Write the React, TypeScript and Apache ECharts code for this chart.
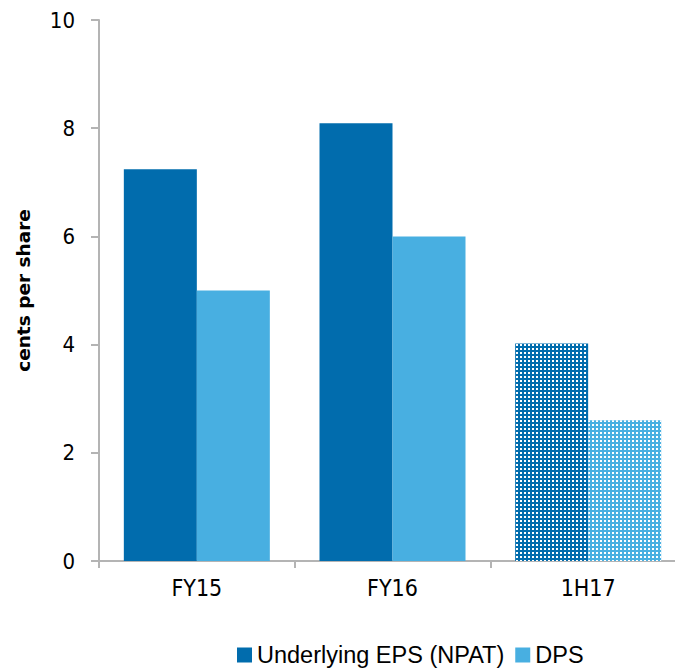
import React, { useEffect, useRef } from "react";
import * as echarts from "echarts";

// Periods on the category axis
const periods = ["FY15", "FY16", "1H17"];
// Cents per share
const epsValues = [7.24, 8.09, 4.02];
const dpsValues = [5.0, 6.0, 2.6];
// Y axis ticks
const yMin = 0;
const yMax = 10;
const yStep = 2;

const EPS_COLOR = "#016CAD";
const DPS_COLOR = "#48AFE1";
const AXIS_GREY = "#B4B4B4";
const TICK_FONT = '"DejaVu Sans Condensed", "DejaVu Sans", sans-serif';

// Half-year (interim) figures are drawn with a dotted fill
const dotted = {
  symbol: "rect",
  symbolSize: 1,
  color: "#ffffff",
  dashArrayX: [2, 2],
  dashArrayY: [2, 2],
  rotation: 0,
};

const withInterimPattern = (values: number[]) =>
  values.map((v, i) =>
    periods[i].startsWith("1H") ? { value: v, itemStyle: { decal: dotted } } : v
  );

export default function App() {
  const ref = useRef<HTMLDivElement>(null);

  useEffect(() => {
    if (!ref.current) return;
    const chart = echarts.init(ref.current, undefined, { renderer: "svg" });
    chart.setOption({
      animation: false,
      backgroundColor: "#ffffff",
      // the plot runs a little past the right edge, so the last bar pair sits near it
      grid: {
        left: 99,
        width: 587,
        top: 20,
        height: 541,
        containLabel: false,
        outerBoundsMode: "none",
      },
      legend: {
        data: ["Underlying EPS (NPAT)", "DPS"],
        left: 232,
        top: 638,
        icon: "rect",
        itemWidth: 15,
        itemHeight: 15,
        itemGap: 11,
        selectedMode: false,
        textStyle: {
          fontFamily: '"Liberation Sans", Arial, sans-serif',
          fontSize: 23.5,
          color: "#000000",
        },
      },
      xAxis: {
        type: "category",
        data: periods,
        boundaryGap: true,
        axisLine: { show: true, lineStyle: { color: AXIS_GREY, width: 2 } },
        axisTick: { show: true, length: 7, lineStyle: { color: AXIS_GREY, width: 2 } },
        axisLabel: {
          margin: 15,
          fontFamily: TICK_FONT,
          fontSize: 23,
          color: "#000000",
        },
        splitLine: { show: false },
      },
      yAxis: {
        type: "value",
        min: yMin,
        max: yMax,
        interval: yStep,
        name: "cents per share",
        nameLocation: "middle",
        nameRotate: 90,
        nameGap: 66,
        nameTextStyle: {
          fontFamily: '"DejaVu Sans", sans-serif',
          fontWeight: "bold",
          fontSize: 18.5,
          color: "#000000",
        },
        axisLine: { show: true, lineStyle: { color: AXIS_GREY, width: 2 } },
        axisTick: { show: true, inside: false, length: 8, lineStyle: { color: AXIS_GREY, width: 2 } },
        axisLabel: {
          margin: 24,
          fontFamily: TICK_FONT,
          fontSize: 22,
          color: "#000000",
        },
        splitLine: { show: false },
      },
      series: [
        {
          name: "Underlying EPS (NPAT)",
          type: "bar",
          data: withInterimPattern(epsValues),
          barWidth: 73,
          barGap: "0%",
          itemStyle: { color: EPS_COLOR },
        },
        {
          name: "DPS",
          type: "bar",
          data: withInterimPattern(dpsValues),
          barWidth: 73,
          barGap: "0%",
          itemStyle: { color: DPS_COLOR },
        },
      ],
    });
    return () => chart.dispose();
  }, []);

  return (
    <div
      ref={ref}
      style={{ position: "fixed", left: 0, top: 0, width: 675, height: 668 }}
    />
  );
}
